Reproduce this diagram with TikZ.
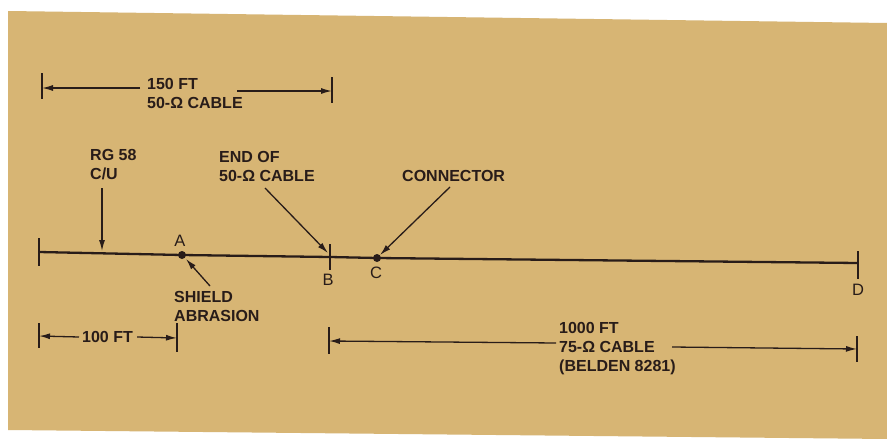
\documentclass[tikz,border=0pt]{standalone}
\usepackage{fontspec}
\setmainfont{Liberation Sans}
\usetikzlibrary{arrows.meta}
\definecolor{paper}{RGB}{215,181,116}
\definecolor{ink}{RGB}{40,28,25}
\tikzset{
  lbl/.style={inner sep=0pt, anchor=west, align=left, text=ink,
    font=\fontsize{16}{19}\selectfont\bfseries},
  pt/.style={inner sep=0pt, text=ink, font=\fontsize{16.5}{19}\selectfont},
  cable/.style={draw=ink, line width=2.3pt},
  tick/.style={draw=ink, line width=1.9pt},
  ptr/.style={draw=ink, line width=1.3pt, -{Latex[length=11pt,width=6pt]}},
  dim/.style={draw=ink, line width=1.3pt, -{Latex[length=11pt,width=6pt]}},
  dot/.style={circle, fill=ink, inner sep=0pt, minimum size=8pt}
}
\begin{document}
\begin{tikzpicture}[x=1pt,y=-1pt]
\useasboundingbox (0,0) rectangle (887,439);
\fill[white] (0,0) rectangle (887,439);
\fill[paper] (8,11) -- (887,23) -- (887,439) -- (8,430) -- cycle;

% main cable points
\coordinate (L) at (39,252);
\coordinate (B) at (330,257);
\coordinate (R) at (858,263);
\node[dot] (A) at (182,255) {};
\node[dot] (C) at (377,258) {};
\draw[cable] (L) -- (A.center) -- (B) -- (C.center) -- (R);
\draw[tick] (39,238) -- (39,266);
\draw[tick] (330,244) -- (330,270);
\draw[tick] (858,251) -- (858,279);

% point labels
\node[pt] (lA) at (180,241) {A};
\node[pt] (lB) at (328,280) {B};
\node[pt] (lC) at (376,273) {C};
\node[pt] (lD) at (858,290) {D};

% callouts
\node[lbl] (rg) at (90,165) {RG 58\\C/U};
\coordinate (rgS) at (102,188);
\coordinate (rgE) at (102,251);
\draw[ptr] (rgS) -- (rgE);

\node[lbl] (end) at (219,166) {END OF\\50-Ω CABLE};
\coordinate (endS) at (265,188);
\coordinate (endE) at (328,253);
\draw[ptr] (endS) -- (endE);

\node[lbl] (con) at (402,176) {CONNECTOR};
\coordinate (conS) at (450,187);
\coordinate (conE) at (380,255);
\draw[ptr] (conS) -- (conE);

\node[lbl] (sh) at (174,306) {SHIELD\\ABRASION};
\coordinate (shS) at (210,286);
\coordinate (shE) at (186,259);
\draw[ptr] (shS) -- (shE);

% 150 ft dimension
\node[lbl] (d150) at (147,93) {150 FT\\50-Ω CABLE};
\draw[tick] (42,73) -- (42,99);
\draw[tick] (332,77) -- (332,103);
\coordinate (d150a) at (140,88);
\coordinate (d150l) at (42,88);
\coordinate (d150b) at (237,91);
\coordinate (d150r) at (332,91);
\draw[dim] (d150a) -- (d150l);
\draw[dim] (d150b) -- (d150r);

% 100 ft dimension
\node[lbl] (d100) at (82,337) {100 FT};
\draw[tick] (39,323) -- (39,348);
\draw[tick] (177,323) -- (177,352);
\coordinate (d100l) at (39,336);
\coordinate (d100r) at (177,338);
\draw[dim] (d100.west) ++(-3,0) -- (d100l);
\draw[dim] (d100.east) ++(4,0) -- (d100r);

% 1000 ft dimension
\node[lbl] (d1000) at (559,349) {1000 FT\\75-Ω CABLE\\(BELDEN 8281)};
\draw[tick] (329,327) -- (329,354);
\draw[tick] (857,336) -- (857,362);
\coordinate (d1000a) at (556,343);
\coordinate (d1000l) at (329,341);
\coordinate (d1000b) at (672,347);
\coordinate (d1000r) at (857,349);
\draw[dim] (d1000a) -- (d1000l);
\draw[dim] (d1000b) -- (d1000r);
\end{tikzpicture}
\end{document}
